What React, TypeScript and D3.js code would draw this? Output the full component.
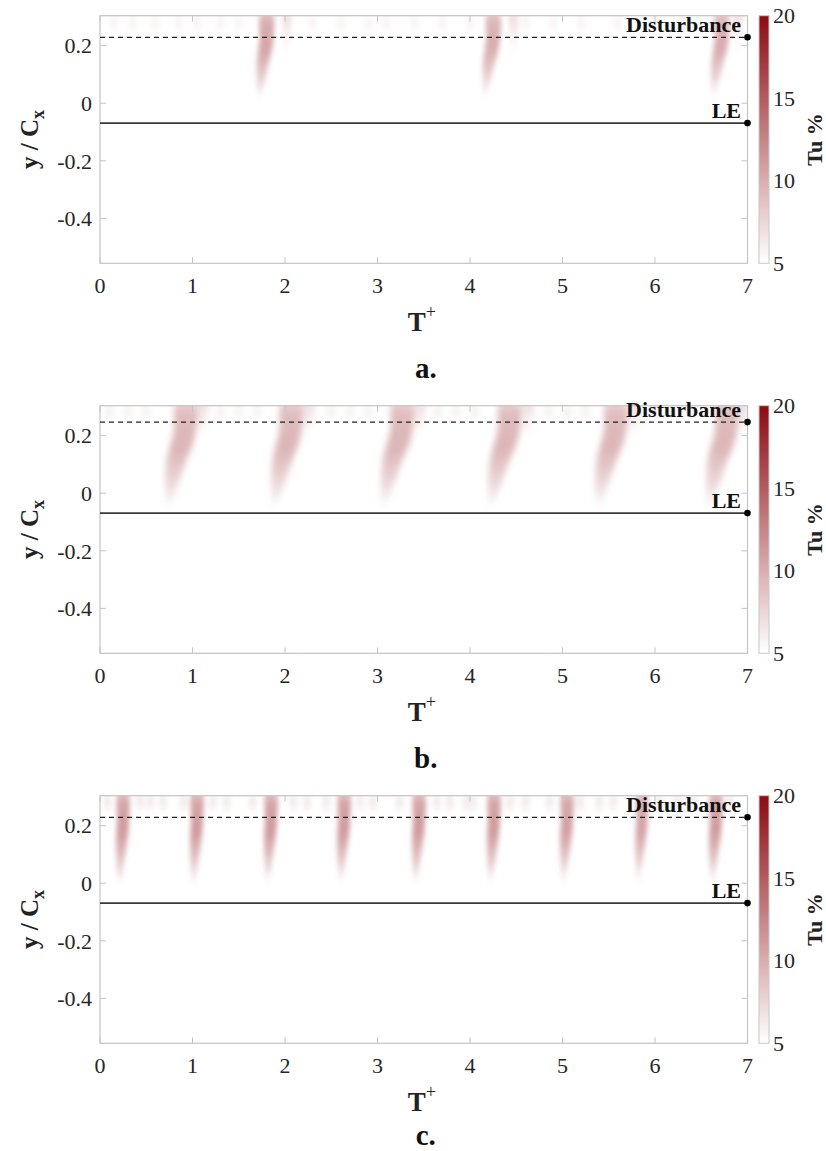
import React from "react";
import * as d3 from "d3";

// ---------- data ----------
const T_TICKS = [0, 1, 2, 3, 4, 5, 6, 7];
const Y_TICKS = [-0.4, -0.2, 0, 0.2];
const Y_TICK_LABELS = ["-0.4", "-0.2", "0", "0.2"];
const CBAR_TICKS = [5, 10, 15, 20];
const PANEL_LABELS = ["a.", "b.", "c."];
const DISTURBANCE_Y = [0.229, 0.247, 0.229];
const LE_Y = -0.069;

// main plumes: [T at top, T at tip, y of tip, width (T units), peak Tu]
const PLUMES_A: [number, number, number, number, number][] = [
  [1.8, 1.72, 0.015, 0.15, 10.8],
  [4.25, 4.16, 0.02, 0.15, 10.3],
  [6.72, 6.63, 0.02, 0.15, 10.3],
];
const PLUMES_B: [number, number, number, number, number][] = [
  [0.92, 0.73, -0.05, 0.24, 9.8],
  [2.06, 1.88, -0.05, 0.24, 9.8],
  [3.26, 3.06, -0.05, 0.24, 9.8],
  [4.42, 4.22, -0.05, 0.24, 9.8],
  [5.57, 5.38, -0.05, 0.24, 9.8],
  [6.77, 6.58, -0.05, 0.24, 9.8],
];
const PLUMES_C: [number, number, number, number, number][] = [
  [0.25, 0.21, -0.005, 0.13, 11.5],
  [1.05, 1.01, -0.005, 0.13, 11.5],
  [1.85, 1.81, 0.0, 0.13, 11.5],
  [2.64, 2.6, 0.0, 0.13, 11.5],
  [3.45, 3.41, 0.0, 0.13, 11.5],
  [4.26, 4.22, 0.0, 0.13, 11.5],
  [5.05, 5.01, 0.0, 0.13, 11.2],
  [5.86, 5.82, 0.005, 0.12, 11],
  [6.66, 6.62, 0.0, 0.13, 11.5],
];

// side streaks: [T, y of tip, width, Tu]
const SIDE_A: [number, number, number, number][] = [
  [2.02, 0.18, 0.08, 7.8],
  [4.47, 0.17, 0.08, 7.8],
  [6.9, 0.18, 0.08, 7.8],
];
const SIDE_B: [number, number, number, number][] = [
  [1.1, 0.2, 0.12, 7.8],
  [2.25, 0.2, 0.12, 7.8],
  [3.45, 0.2, 0.12, 7.8],
  [4.62, 0.2, 0.12, 7.8],
  [5.77, 0.2, 0.12, 7.8],
  [6.95, 0.2, 0.1, 7.8],
];
const SIDE_C: [number, number, number, number][] = [];

// faint streaks along the top band: T positions
const TOP_A = [0.15, 0.35, 0.6, 0.85, 1.05, 1.3, 1.5, 2.3, 2.6, 2.9, 3.1, 3.4, 3.7, 4.0, 4.6, 4.9, 5.2, 5.6, 6.0, 6.3];
const TOP_B = [0.1, 0.3, 0.5, 1.3, 1.5, 1.7, 2.5, 2.7, 2.9, 3.65, 3.85, 4.05, 4.85, 5.05, 5.25, 6.0, 6.2, 6.4];
const TOP_C = [0.08, 0.43, 0.54, 0.68, 0.9, 1.22, 1.37, 1.65, 2.09, 2.24, 2.45, 2.81, 2.95, 3.24, 3.64, 3.78, 3.96, 4.03, 4.43, 4.6, 4.86, 5.19, 5.4, 5.55, 6.05, 6.24, 6.41, 6.81];
const TOP_TU = [6.0, 6.3, 6.8];

const PANELS = [
  { plumes: PLUMES_A, side: SIDE_A, top: TOP_A },
  { plumes: PLUMES_B, side: SIDE_B, top: TOP_B },
  { plumes: PLUMES_C, side: SIDE_C, top: TOP_C },
];

// ---------- layout ----------
const W = 826;
const H = 1151;
const PANEL_TOPS = [15.7, 405.7, 795.7];
const PLOT_H = 247.6;
const X0 = 100;
const X1 = 747.5;
const Y_DOMAIN: [number, number] = [-0.556, 0.304];
const FONT = "'Liberation Serif', 'Times New Roman', Times, serif";

const color = d3.scaleLinear<string>().domain([5, 20]).range(["#ffffff", "#8c0a12"]).interpolate(d3.interpolateRgb);

function Panel({ idx }: { idx: number }) {
  const top = PANEL_TOPS[idx];
  const bottom = top + PLOT_H;
  const x = d3.scaleLinear().domain([0, 7]).range([X0, X1]);
  const y = d3.scaleLinear().domain(Y_DOMAIN).range([bottom, top]);
  const cb = d3.scaleLinear().domain([5, 20]).range([bottom, top]);
  const p = PANELS[idx];
  const line = d3.line<[number, number]>().x((d) => x(d[0])).y((d) => y(d[1])).curve(d3.curveCatmullRomClosed.alpha(0.5));
  const yTop = 0.32;
  const clipId = `clip${idx}`;
  const blurId = `blur${idx}`;
  const labelShift = idx === 2 ? -13 : 0;

  const plumePaths = p.plumes.map(([tTop, tBot, yTip, w, tu], i) => {
    const yMid = (0.25 + yTip) / 2;
    const tMid = tTop + (tBot - tTop) * 0.55;
    const pts: [number, number][] = [
      [tTop - w * 0.4, yTop],
      [tTop - w / 2, 0.22],
      [tMid - w * 0.42, yMid],
      [tBot, yTip],
      [tMid + w * 0.42, yMid],
      [tTop + w / 2, 0.22],
      [tTop + w * 0.4, yTop],
    ];
    return { d: line(pts) as string, tu, id: `g${idx}_${i}` };
  });
  const sidePaths = p.side.map(([t, yTip, w, tu], i) => {
    const pts: [number, number][] = [
      [t - w / 2, yTop],
      [t - w * 0.4, (yTip + 0.28) / 2],
      [t - 0.01, yTip],
      [t + w * 0.4, (yTip + 0.28) / 2],
      [t + w / 2, yTop],
    ];
    return { d: line(pts) as string, tu, id: `s${idx}_${i}` };
  });

  return (
    <g>
      <defs>
        <clipPath id={clipId}>
          <rect x={X0} y={top} width={X1 - X0} height={PLOT_H} />
        </clipPath>
        <filter id={blurId} x="-50%" y="-50%" width="200%" height="200%">
          <feGaussianBlur stdDeviation={idx === 1 ? "3.2 4.5" : "2.6 4"} />
        </filter>
        {plumePaths.map((pp) => (
          <linearGradient key={pp.id} id={pp.id} x1="0" y1="0" x2="0" y2="1">
            <stop offset="0" stopColor={color(pp.tu)} stopOpacity={0.5} />
            <stop offset="0.14" stopColor={color(pp.tu)} stopOpacity={0.85} />
            <stop offset="0.45" stopColor={color(pp.tu)} stopOpacity={0.95} />
            <stop offset="0.75" stopColor={color(pp.tu)} stopOpacity={0.55} />
            <stop offset="1" stopColor={color(pp.tu)} stopOpacity={0.05} />
          </linearGradient>
        ))}
        {sidePaths.map((pp) => (
          <linearGradient key={pp.id} id={pp.id} x1="0" y1="0" x2="0" y2="1">
            <stop offset="0" stopColor={color(pp.tu)} stopOpacity={0.8} />
            <stop offset="1" stopColor={color(pp.tu)} stopOpacity={0.05} />
          </linearGradient>
        ))}
      </defs>

      {/* heat map plumes */}
      <g clipPath={`url(#${clipId})`}>
        <g filter={`url(#${blurId})`}>
          {p.top.map((t, i) => (
            <rect
              key={"t" + i}
              x={x(t) - 4}
              y={y(0.31)}
              width={8}
              height={y(0.258) - y(0.31)}
              fill={color(TOP_TU[idx])}
              opacity={0.7}
            />
          ))}
          {sidePaths.map((pp) => (
            <path key={pp.id} d={pp.d} fill={`url(#${pp.id})`} />
          ))}
          {plumePaths.map((pp) => (
            <path key={pp.id} d={pp.d} fill={`url(#${pp.id})`} />
          ))}
        </g>
      </g>

      {/* axes box */}
      <rect x={X0} y={top} width={X1 - X0} height={PLOT_H} fill="none" stroke="#c4c4c4" strokeWidth={1.2} />
      {T_TICKS.map((t) => (
        <g key={"xt" + t}>
          <line x1={x(t)} x2={x(t)} y1={bottom} y2={bottom - 6} stroke="#c4c4c4" strokeWidth={1} />
          <line x1={x(t)} x2={x(t)} y1={top} y2={top + 6} stroke="#c4c4c4" strokeWidth={1} />
          <text x={x(t)} y={bottom + 30} textAnchor="middle" fontSize={22} fill="#262626" fontFamily={FONT}>
            {t}
          </text>
        </g>
      ))}
      {Y_TICKS.map((v, i) => (
        <g key={"yt" + v}>
          <line x1={X0} x2={X0 + 6} y1={y(v)} y2={y(v)} stroke="#c4c4c4" strokeWidth={1} />
          <line x1={X1} x2={X1 - 6} y1={y(v)} y2={y(v)} stroke="#c4c4c4" strokeWidth={1} />
          <text x={92} y={y(v)} dy="0.35em" textAnchor="end" fontSize={22} fill="#262626" fontFamily={FONT}>
            {Y_TICK_LABELS[i]}
          </text>
        </g>
      ))}

      {/* reference lines */}
      <line x1={X0} x2={X1} y1={y(DISTURBANCE_Y[idx])} y2={y(DISTURBANCE_Y[idx])} stroke="#222" strokeWidth={1.3} strokeDasharray="5,4" />
      <line x1={X0} x2={X1} y1={y(LE_Y)} y2={y(LE_Y)} stroke="#3a3a3a" strokeWidth={1.6} />
      <circle cx={X1} cy={y(DISTURBANCE_Y[idx])} r={3.3} fill="#000" />
      <circle cx={X1} cy={y(LE_Y)} r={3.3} fill="#000" />
      <text x={741} y={y(DISTURBANCE_Y[idx]) - 5} textAnchor="end" fontSize={22} fontWeight="bold" fill="#111" fontFamily={FONT}>
        Disturbance
      </text>
      <text x={741} y={y(LE_Y) - 5} textAnchor="end" fontSize={22} fontWeight="bold" fill="#111" fontFamily={FONT}>
        LE
      </text>

      {/* axis labels */}
      <text
        transform={`translate(38,${(top + bottom) / 2}) rotate(-90)`}
        textAnchor="middle"
        fontSize={25}
        fontWeight="bold"
        fill="#222"
        fontFamily={FONT}
      >
        y / C
        <tspan fontSize={18} dy={6}>
          x
        </tspan>
      </text>
      <text x={(X0 + X1) / 2 - 2} y={bottom + 68} textAnchor="middle" fontSize={27} fontWeight="bold" fill="#222" fontFamily={FONT}>
        T
        <tspan fontSize={18} fontWeight="normal" dy={-13}>
          +
        </tspan>
      </text>
      <text x={(X0 + X1) / 2 + 2} y={bottom + 115 + labelShift} textAnchor="middle" fontSize={29} fontWeight="bold" fill="#111" fontFamily={FONT}>
        {PANEL_LABELS[idx]}
      </text>

      {/* colorbar */}
      <defs>
        <linearGradient id={`cbar${idx}`} x1="0" y1="1" x2="0" y2="0">
          {d3.range(0, 1.0001, 0.1).map((o) => (
            <stop key={o} offset={o} stopColor={color(5 + o * 15)} />
          ))}
        </linearGradient>
      </defs>
      <rect x={759} y={top} width={10} height={PLOT_H} fill={`url(#cbar${idx})`} stroke="#c8c8c8" strokeWidth={1} />
      {CBAR_TICKS.map((v) => (
        <text key={"cb" + v} x={773} y={cb(v)} dy="0.35em" fontSize={22} fill="#262626" fontFamily={FONT}>
          {v}
        </text>
      ))}
      <text
        transform={`translate(822,${(top + bottom) / 2}) rotate(-90)`}
        textAnchor="middle"
        fontSize={22}
        fontWeight="bold"
        fill="#222"
        fontFamily={FONT}
      >
        Tu %
      </text>
    </g>
  );
}

export default function App() {
  return (
    <svg
      width={W}
      height={H}
      viewBox={`0 0 ${W} ${H}`}
      style={{ position: "absolute", left: 0, top: 0, background: "#fff" }}
    >
      <rect width={W} height={H} fill="#fff" />
      {[0, 1, 2].map((i) => (
        <Panel key={i} idx={i} />
      ))}
    </svg>
  );
}
